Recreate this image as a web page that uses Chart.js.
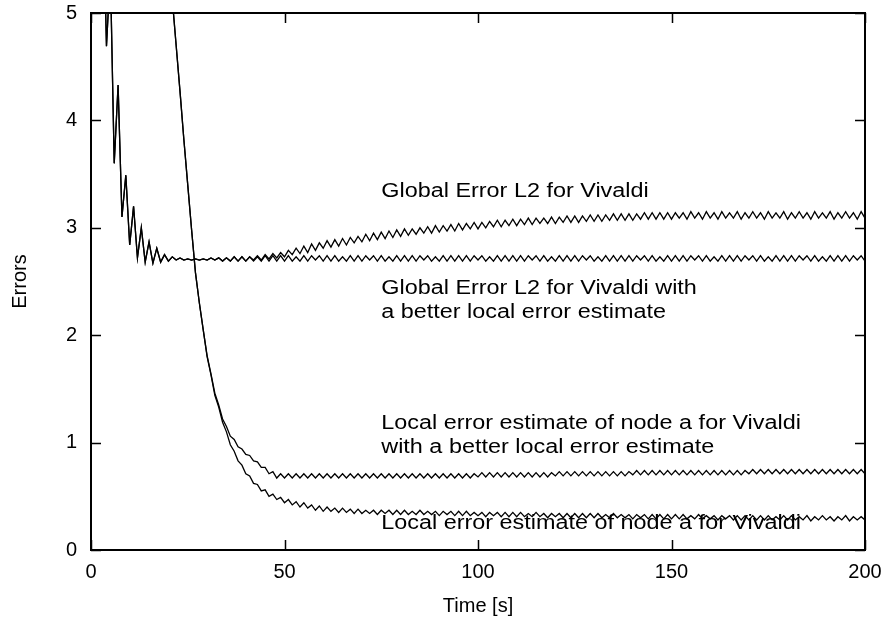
<!DOCTYPE html>
<html>
<head>
<meta charset="utf-8">
<script src="https://cdn.jsdelivr.net/npm/chart.js@4.4.1/dist/chart.umd.min.js"></script>
<style>
  html, body { margin: 0; padding: 0; background: #ffffff; }
  #wrap { width: 892px; height: 623px; }
</style>
</head>
<body>
<div id="wrap"><canvas id="chart" width="892" height="623"></canvas></div>
<script>
// Sample times in seconds (one sample per second)
const time = [
  0,1,2,3,4,5,6,7,8,9,10,11,12,13,14,15,16,17,18,19,20,21,22,23,24,25,26,27,28,29,
  30,31,32,33,34,35,36,37,38,39,40,41,42,43,44,45,46,47,48,49,50,51,52,53,54,55,56,57,58,59,
  60,61,62,63,64,65,66,67,68,69,70,71,72,73,74,75,76,77,78,79,80,81,82,83,84,85,86,87,88,89,
  90,91,92,93,94,95,96,97,98,99,100,101,102,103,104,105,106,107,108,109,110,111,112,113,114,115,116,117,118,119,
  120,121,122,123,124,125,126,127,128,129,130,131,132,133,134,135,136,137,138,139,140,141,142,143,144,145,146,147,148,149,
  150,151,152,153,154,155,156,157,158,159,160,161,162,163,164,165,166,167,168,169,170,171,172,173,174,175,176,177,178,179,
  180,181,182,183,184,185,186,187,188,189,190,191,192,193,194,195,196,197,198,199,200
];

// Global error L2, plain Vivaldi
const globalErr = [
  12.0, 10.0, 8.0, 6.2, 4.69, 5.4, 3.60, 4.33, 3.10, 3.49,
  2.84, 3.20, 2.72, 3.00, 2.68, 2.87, 2.67, 2.81, 2.68, 2.75,
  2.69, 2.73, 2.70, 2.72, 2.70, 2.71, 2.70, 2.71, 2.70, 2.71,
  2.70, 2.72, 2.70, 2.72, 2.69, 2.72, 2.69, 2.73, 2.69, 2.73,
  2.69, 2.73, 2.70, 2.74, 2.70, 2.75, 2.71, 2.76, 2.72, 2.77,
  2.73, 2.79, 2.75, 2.81, 2.76, 2.83, 2.77, 2.85, 2.79, 2.86,
  2.81, 2.88, 2.82, 2.89, 2.83, 2.90, 2.84, 2.91, 2.86, 2.92,
  2.87, 2.94, 2.88, 2.95, 2.89, 2.96, 2.90, 2.97, 2.91, 2.98,
  2.92, 2.99, 2.93, 2.99, 2.94, 3.00, 2.95, 3.01, 2.95, 3.02,
  2.96, 3.02, 2.97, 3.03, 2.97, 3.04, 2.98, 3.04, 2.99, 3.05,
  2.99, 3.05, 3.00, 3.06, 3.01, 3.07, 3.01, 3.07, 3.02, 3.08,
  3.02, 3.08, 3.03, 3.09, 3.03, 3.09, 3.04, 3.09, 3.04, 3.10,
  3.04, 3.10, 3.05, 3.11, 3.05, 3.11, 3.05, 3.11, 3.06, 3.12,
  3.06, 3.12, 3.06, 3.12, 3.07, 3.13, 3.07, 3.13, 3.07, 3.13,
  3.07, 3.13, 3.08, 3.14, 3.08, 3.14, 3.08, 3.14, 3.08, 3.14,
  3.08, 3.14, 3.09, 3.14, 3.08, 3.15, 3.09, 3.14, 3.08, 3.15,
  3.09, 3.14, 3.08, 3.15, 3.09, 3.14, 3.09, 3.15, 3.08, 3.14,
  3.09, 3.15, 3.09, 3.14, 3.08, 3.15, 3.09, 3.14, 3.09, 3.15,
  3.08, 3.14, 3.09, 3.15, 3.09, 3.14, 3.08, 3.15, 3.09, 3.14,
  3.09, 3.15, 3.08, 3.14, 3.09, 3.15, 3.09, 3.14, 3.08, 3.15,
  3.09
];

// Global error L2, Vivaldi with the better local error estimate
const globalErrBetter = [
  12.0, 10.0, 8.0, 6.2, 4.69, 5.4, 3.60, 4.33, 3.10, 3.49,
  2.84, 3.20, 2.72, 3.00, 2.68, 2.87, 2.67, 2.81, 2.68, 2.75,
  2.69, 2.73, 2.70, 2.72, 2.70, 2.71, 2.70, 2.71, 2.70, 2.71,
  2.70, 2.72, 2.70, 2.72, 2.69, 2.72, 2.69, 2.73, 2.69, 2.73,
  2.69, 2.73, 2.69, 2.73, 2.69, 2.74, 2.69, 2.74, 2.69, 2.74,
  2.69, 2.74, 2.69, 2.73, 2.69, 2.74, 2.69, 2.74, 2.70, 2.74,
  2.69, 2.74, 2.69, 2.74, 2.69, 2.73, 2.69, 2.74, 2.69, 2.74,
  2.69, 2.74, 2.70, 2.74, 2.69, 2.74, 2.69, 2.73, 2.69, 2.74,
  2.69, 2.74, 2.69, 2.74, 2.69, 2.74, 2.70, 2.74, 2.69, 2.73,
  2.69, 2.74, 2.69, 2.74, 2.69, 2.74, 2.69, 2.74, 2.69, 2.74,
  2.70, 2.74, 2.69, 2.73, 2.69, 2.74, 2.69, 2.74, 2.69, 2.74,
  2.69, 2.74, 2.69, 2.74, 2.70, 2.74, 2.69, 2.74, 2.69, 2.73,
  2.69, 2.74, 2.69, 2.74, 2.69, 2.74, 2.69, 2.74, 2.70, 2.74,
  2.69, 2.73, 2.69, 2.74, 2.69, 2.74, 2.69, 2.74, 2.69, 2.74,
  2.69, 2.74, 2.70, 2.74, 2.69, 2.74, 2.69, 2.73, 2.69, 2.74,
  2.69, 2.74, 2.69, 2.74, 2.69, 2.74, 2.70, 2.74, 2.69, 2.74,
  2.69, 2.73, 2.69, 2.74, 2.69, 2.74, 2.69, 2.74, 2.69, 2.74,
  2.70, 2.74, 2.69, 2.74, 2.69, 2.73, 2.69, 2.74, 2.69, 2.74,
  2.69, 2.74, 2.69, 2.74, 2.70, 2.74, 2.69, 2.74, 2.69, 2.73,
  2.69, 2.74, 2.69, 2.74, 2.69, 2.74, 2.69, 2.74, 2.70, 2.74,
  2.69
];

// Local error estimate of node a, Vivaldi with the better local error estimate
const localErrBetter = [
  null, null, null, null, null, null, null, null, null, null,
  null, null, null, null, null, null, null, null, 6.45, 5.98,
  5.55, 5.13, 4.70, 4.27, 3.82, 3.40, 2.98, 2.58, 2.30, 2.05,
  1.81, 1.64, 1.46, 1.35, 1.22, 1.15, 1.06, 1.03, 0.96, 0.94,
  0.89, 0.88, 0.83, 0.82, 0.77, 0.77, 0.71, 0.73, 0.67, 0.71,
  0.67, 0.71, 0.67, 0.71, 0.67, 0.71, 0.67, 0.71, 0.67, 0.71,
  0.67, 0.71, 0.67, 0.71, 0.67, 0.71, 0.67, 0.71, 0.67, 0.71,
  0.67, 0.71, 0.67, 0.71, 0.67, 0.71, 0.67, 0.71, 0.67, 0.71,
  0.67, 0.71, 0.67, 0.71, 0.67, 0.71, 0.67, 0.71, 0.67, 0.71,
  0.67, 0.71, 0.67, 0.71, 0.67, 0.71, 0.67, 0.71, 0.67, 0.71,
  0.68, 0.72, 0.68, 0.72, 0.68, 0.72, 0.68, 0.72, 0.68, 0.72,
  0.68, 0.72, 0.68, 0.72, 0.68, 0.72, 0.68, 0.72, 0.68, 0.72,
  0.69, 0.73, 0.69, 0.73, 0.69, 0.73, 0.69, 0.73, 0.69, 0.73,
  0.69, 0.73, 0.69, 0.73, 0.69, 0.73, 0.69, 0.73, 0.69, 0.73,
  0.70, 0.74, 0.70, 0.74, 0.70, 0.74, 0.70, 0.74, 0.70, 0.74,
  0.70, 0.74, 0.70, 0.74, 0.70, 0.74, 0.70, 0.74, 0.70, 0.74,
  0.70, 0.74, 0.70, 0.74, 0.70, 0.74, 0.70, 0.74, 0.70, 0.74,
  0.71, 0.75, 0.71, 0.75, 0.71, 0.75, 0.71, 0.75, 0.71, 0.75,
  0.71, 0.75, 0.71, 0.75, 0.71, 0.75, 0.71, 0.75, 0.71, 0.75,
  0.71, 0.75, 0.71, 0.75, 0.71, 0.75, 0.71, 0.75, 0.71, 0.75,
  0.71
];

// Local error estimate of node a, plain Vivaldi
const localErr = [
  null, null, null, null, null, null, null, null, null, null,
  null, null, null, null, null, null, null, null, 6.45, 5.98,
  5.55, 5.13, 4.70, 4.27, 3.82, 3.40, 2.98, 2.58, 2.30, 2.05,
  1.80, 1.63, 1.44, 1.33, 1.19, 1.10, 0.98, 0.92, 0.83, 0.79,
  0.71, 0.69, 0.62, 0.61, 0.55, 0.56, 0.50, 0.52, 0.47, 0.49,
  0.44, 0.47, 0.42, 0.45, 0.40, 0.44, 0.39, 0.42, 0.37, 0.41,
  0.36, 0.40, 0.36, 0.39, 0.35, 0.39, 0.35, 0.38, 0.34, 0.38,
  0.34, 0.37, 0.34, 0.37, 0.33, 0.37, 0.34, 0.37, 0.33, 0.37,
  0.33, 0.37, 0.33, 0.36, 0.33, 0.37, 0.33, 0.36, 0.33, 0.36,
  0.32, 0.36, 0.33, 0.36, 0.32, 0.36, 0.32, 0.36, 0.32, 0.35,
  0.32, 0.35, 0.31, 0.35, 0.32, 0.35, 0.31, 0.35, 0.31, 0.35,
  0.31, 0.35, 0.31, 0.34, 0.31, 0.35, 0.31, 0.34, 0.30, 0.34,
  0.31, 0.34, 0.30, 0.34, 0.30, 0.34, 0.30, 0.34, 0.30, 0.34,
  0.30, 0.34, 0.30, 0.33, 0.30, 0.34, 0.30, 0.33, 0.30, 0.33,
  0.29, 0.33, 0.30, 0.33, 0.29, 0.33, 0.29, 0.33, 0.29, 0.33,
  0.29, 0.33, 0.29, 0.33, 0.29, 0.32, 0.29, 0.33, 0.29, 0.32,
  0.29, 0.32, 0.28, 0.32, 0.29, 0.32, 0.28, 0.32, 0.28, 0.32,
  0.28, 0.32, 0.28, 0.32, 0.28, 0.32, 0.28, 0.31, 0.28, 0.32,
  0.28, 0.32, 0.28, 0.31, 0.28, 0.32, 0.27, 0.31, 0.28, 0.32,
  0.28, 0.31, 0.27, 0.31, 0.28, 0.32, 0.27, 0.31, 0.28, 0.31,
  0.28
];

const xTicks = [0, 50, 100, 150, 200];
const yTicks = [0, 1, 2, 3, 4, 5];

const seriesNames = [
  'Global Error L2 for Vivaldi',
  'Global Error L2 for Vivaldi with a better local error estimate',
  'Local error estimate of node a for Vivaldi with a better local error estimate',
  'Local error estimate of node a for Vivaldi'
];
const seriesValues = [globalErr, globalErrBetter, localErrBetter, localErr];

// In-plot curve labels, anchored in data coordinates (x, first baseline y)
const curveLabels = [
  { x: 75, y: 3.287, lines: ['Global Error L2 for Vivaldi'] },
  { x: 75, y: 2.388, lines: ['Global Error L2 for Vivaldi with', 'a better local error estimate'] },
  { x: 75, y: 1.127, lines: ['Local error estimate of node a for Vivaldi', 'with a better local error estimate'] },
  { x: 75, y: 0.196, lines: ['Local error estimate of node a for Vivaldi'] }
];

const FONT = '"Liberation Sans", Arial, Helvetica, sans-serif';

// Frame around the plot with inward ticks on all four sides
const framePlugin = {
  id: 'frame',
  afterDatasetsDraw(chart) {
    const { ctx, chartArea: a, scales: { x, y } } = chart;
    const tl = 10;
    ctx.save();
    ctx.strokeStyle = '#000';
    ctx.lineWidth = 1.5;
    ctx.beginPath();
    x.ticks.forEach(t => {
      const px = Math.round(x.getPixelForValue(t.value)) + 0.5;
      ctx.moveTo(px, a.bottom); ctx.lineTo(px, a.bottom - tl);
      ctx.moveTo(px, a.top); ctx.lineTo(px, a.top + tl);
    });
    y.ticks.forEach(t => {
      const py = Math.round(y.getPixelForValue(t.value)) + 0.5;
      ctx.moveTo(a.left, py); ctx.lineTo(a.left + tl, py);
      ctx.moveTo(a.right, py); ctx.lineTo(a.right - tl, py);
    });
    ctx.stroke();
    ctx.lineWidth = 2;
    ctx.strokeRect(a.left, a.top, a.right - a.left, a.bottom - a.top);
    ctx.restore();
  }
};

// Curve labels drawn as text inside the plot
const labelPlugin = {
  id: 'curveLabels',
  afterDatasetsDraw(chart) {
    const { ctx, scales: { x, y } } = chart;
    ctx.save();
    ctx.fillStyle = '#000';
    ctx.font = '20px ' + FONT;
    ctx.textBaseline = 'alphabetic';
    ctx.textAlign = 'left';
    curveLabels.forEach(lab => {
      const px = x.getPixelForValue(lab.x);
      const py = y.getPixelForValue(lab.y);
      lab.lines.forEach((line, i) => {
        ctx.save();
        ctx.translate(px, py + i * 24.5);
        ctx.scale(1.17, 1);
        ctx.fillText(line, 0, 0);
        ctx.restore();
      });
    });
    ctx.restore();
  }
};

const datasets = seriesValues.map((vals, i) => ({
  label: seriesNames[i],
  data: time.map((t, k) => ({ x: t, y: vals[k] })),
  borderColor: '#000000',
  borderWidth: 1.3,
  pointRadius: 0,
  tension: 0,
  fill: false,
  spanGaps: false
}));

new Chart(document.getElementById('chart'), {
  type: 'line',
  data: { datasets },
  options: {
    responsive: false,
    animation: false,
    devicePixelRatio: 1,
    layout: { padding: { left: 0, top: 13, right: 27, bottom: 0 } },
    plugins: { legend: { display: false }, tooltip: { enabled: false } },
    scales: {
      x: {
        type: 'linear',
        min: 0, max: 200,
        afterBuildTicks: s => { s.ticks = xTicks.map(v => ({ value: v })); },
        afterFit: s => { s.height = 73; s.paddingLeft = 0; s.paddingRight = 0; },
        grid: { display: false, drawTicks: false },
        border: { display: false },
        ticks: { color: '#000', font: { family: FONT, size: 20 }, padding: 10, maxRotation: 0 },
        title: { display: true, text: 'Time [s]', color: '#000', font: { family: FONT, size: 20 }, padding: { top: 0, bottom: 5 } }
      },
      y: {
        type: 'linear',
        min: 0, max: 5,
        afterBuildTicks: s => { s.ticks = yTicks.map(v => ({ value: v })); },
        afterFit: s => { s.width = 91; s.paddingTop = 0; s.paddingBottom = 0; },
        grid: { display: false, drawTicks: false },
        border: { display: false },
        ticks: { color: '#000', font: { family: FONT, size: 20 }, padding: 14 },
        title: { display: true, text: 'Errors', color: '#000', font: { family: FONT, size: 20 }, padding: { top: 8, bottom: 0 } }
      }
    }
  },
  plugins: [framePlugin, labelPlugin]
});
</script>
</body>
</html>
